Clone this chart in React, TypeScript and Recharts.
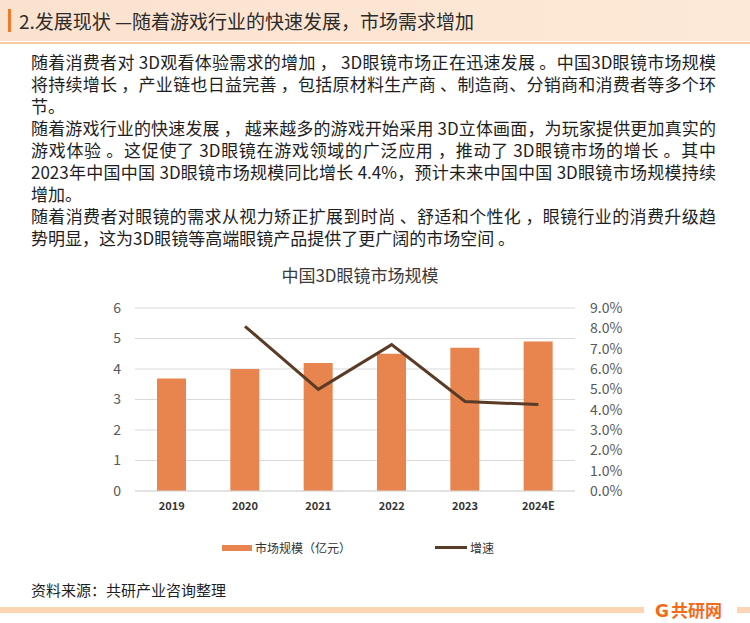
import React from "react";
import { ComposedChart, Bar, Line, XAxis, YAxis, CartesianGrid } from "recharts";

const years = ["2019", "2020", "2021", "2022", "2023", "2024E"];
const marketSize = [3.69, 4.0, 4.2, 4.5, 4.7, 4.9];
const growthRate = [null, 0.081, 0.05, 0.072, 0.044, 0.0425];
const leftTicks = [0, 1, 2, 3, 4, 5, 6];
const rightTicks = [0, 0.01, 0.02, 0.03, 0.04, 0.05, 0.06, 0.07, 0.08, 0.09];

const paragraphLines = [
  { text: "随着消费者对 3D观看体验需求的增加 ， 3D眼镜市场正在迅速发展 。中国3D眼镜市场规模", full: true },
  { text: "将持续增长 ，产业链也日益完善 ，包括原材料生产商 、制造商、分销商和消费者等多个环", full: true },
  { text: "节。", full: false },
  { text: "随着游戏行业的快速发展 ， 越来越多的游戏开始采用 3D立体画面，为玩家提供更加真实的", full: true },
  { text: "游戏体验 。这促使了 3D眼镜在游戏领域的广泛应用    ，推动了 3D眼镜市场的增长 。其中", full: true },
  { text: "2023年中国中国 3D眼镜市场规模同比增长 4.4%，预计未来中国中国 3D眼镜市场规模持续", full: true },
  { text: "增加。", full: false },
  { text: "随着消费者对眼镜的需求从视力矫正扩展到时尚   、舒适和个性化 ，眼镜行业的消费升级趋", full: true },
  { text: "势明显，这为3D眼镜等高端眼镜产品提供了更广阔的市场空间 。", full: false },
];

const data = years.map((year, i) => ({
  year,
  size: marketSize[i],
  growth: growthRate[i],
}));

const FONT = '"Noto Sans CJK SC", "Noto Sans", sans-serif';
const BAR_COLOR = "#E8854E";
const LINE_COLOR = "#5A3B26";

const App = () => {
  return (
    <div
      style={{
        position: "absolute",
        left: 0,
        top: 0,
        width: 750,
        height: 623,
        background: "#fff",
        fontFamily: FONT,
        overflow: "hidden",
      }}
    >
      {/* header band */}
      <div
        style={{
          position: "absolute",
          left: 0,
          top: 0,
          width: 750,
          height: 41,
          background: "linear-gradient(90deg, #fbe2cf 0%, #fde9d7 100%)",
        }}
      />
      <div style={{ position: "absolute", left: 0, top: 42, width: 750, height: 2, background: "#f9cba3" }} />
      <div style={{ position: "absolute", left: 8, top: 9, width: 3, height: 23, background: "#f07a2a" }} />
      <div
        style={{
          position: "absolute",
          left: 19,
          top: 7,
          fontSize: 19,
          lineHeight: "28px",
          color: "#2b2b2b",
          whiteSpace: "nowrap",
        }}
      >
        2.发展现状 —随着游戏行业的快速发展，市场需求增加
      </div>

      {/* body text */}
      <div style={{ position: "absolute", left: 31, top: 51, width: 685 }}>
        {paragraphLines.map((line, i) => (
          <div
            key={i}
            style={{
              fontSize: 17,
              lineHeight: "22px",
              height: 22,
              color: "#1e1e1e",
              whiteSpace: "nowrap",
              textAlign: line.full ? "justify" : "left",
              textAlignLast: line.full ? "justify" : "left",
            }}
          >
            {line.text}
          </div>
        ))}
      </div>

      {/* chart title */}
      <div
        style={{
          position: "absolute",
          left: 140,
          top: 263,
          width: 440,
          textAlign: "center",
          fontSize: 17,
          lineHeight: "24px",
          color: "#3a3a3a",
        }}
      >
        中国3D眼镜市场规模
      </div>

      <div style={{ position: "absolute", left: 0, top: 250 }}>
        <ComposedChart
          width={750}
          height={280}
          data={data}
          margin={{ top: 58, right: 115, bottom: 14, left: 95 }}
        >
          <CartesianGrid yAxisId="left" vertical={false} stroke="#d9d9d9" strokeWidth={1} />
          <XAxis
            dataKey="year"
            axisLine={{ stroke: "#d9d9d9" }}
            tickLine={false}
            tickSize={0}
            tickMargin={11}
            height={25}
            interval={0}
            tick={{ fontSize: 11, fill: "#333", fontFamily: FONT, fontWeight: 600 }}
          />
          <YAxis
            yAxisId="left"
            domain={[0, 6]}
            ticks={leftTicks}
            interval={0}
            width={40}
            axisLine={false}
            tickLine={false}
            tickSize={0}
            tickMargin={14}
            tick={{ fontSize: 14, fill: "#595959", fontFamily: FONT }}
          />
          <YAxis
            yAxisId="right"
            orientation="right"
            domain={[0, 0.09]}
            ticks={rightTicks}
            interval={0}
            width={60}
            axisLine={false}
            tickLine={false}
            tickSize={0}
            tickMargin={15}
            tickFormatter={(v) => `${(v * 100).toFixed(1)}%`}
            tick={{ fontSize: 14, fill: "#595959", fontFamily: FONT }}
          />
          <Bar yAxisId="left" dataKey="size" fill={BAR_COLOR} barSize={29} isAnimationActive={false} />
          <Line
            yAxisId="right"
            type="linear"
            dataKey="growth"
            stroke={LINE_COLOR}
            strokeWidth={3}
            dot={false}
            activeDot={false}
            isAnimationActive={false}
          />
        </ComposedChart>
      </div>

      {/* legend */}
      <div style={{ position: "absolute", left: 222, top: 545, width: 30, height: 6, background: BAR_COLOR }} />
      <div style={{ position: "absolute", left: 255, top: 539, fontSize: 12, lineHeight: "18px", color: "#333", whiteSpace: "nowrap" }}>
        市场规模（亿元）
      </div>
      <div style={{ position: "absolute", left: 435, top: 546, width: 32, height: 3, background: LINE_COLOR }} />
      <div style={{ position: "absolute", left: 470, top: 539, fontSize: 12, lineHeight: "18px", color: "#333", whiteSpace: "nowrap" }}>
        增速
      </div>

      {/* footer */}
      <div style={{ position: "absolute", left: 31, top: 579, fontSize: 15, lineHeight: "22px", color: "#1e1e1e", whiteSpace: "nowrap" }}>
        资料来源：共研产业咨询整理
      </div>
      <div style={{ position: "absolute", left: 0, top: 607, width: 644, height: 6, background: "#fcd6b4" }} />
      <div style={{ position: "absolute", left: 737, top: 607, width: 13, height: 6, background: "#fcd6b4" }} />
      <div
        style={{
          position: "absolute",
          left: 655,
          top: 599,
          fontSize: 17,
          lineHeight: "22px",
          fontWeight: 700,
          color: "#f26a1b",
          whiteSpace: "nowrap",
        }}
      >
        <span style={{ fontFamily: "DejaVu Sans", fontWeight: 700, marginRight: 2 }}>G</span>共研网
      </div>
    </div>
  );
};

export default App;
